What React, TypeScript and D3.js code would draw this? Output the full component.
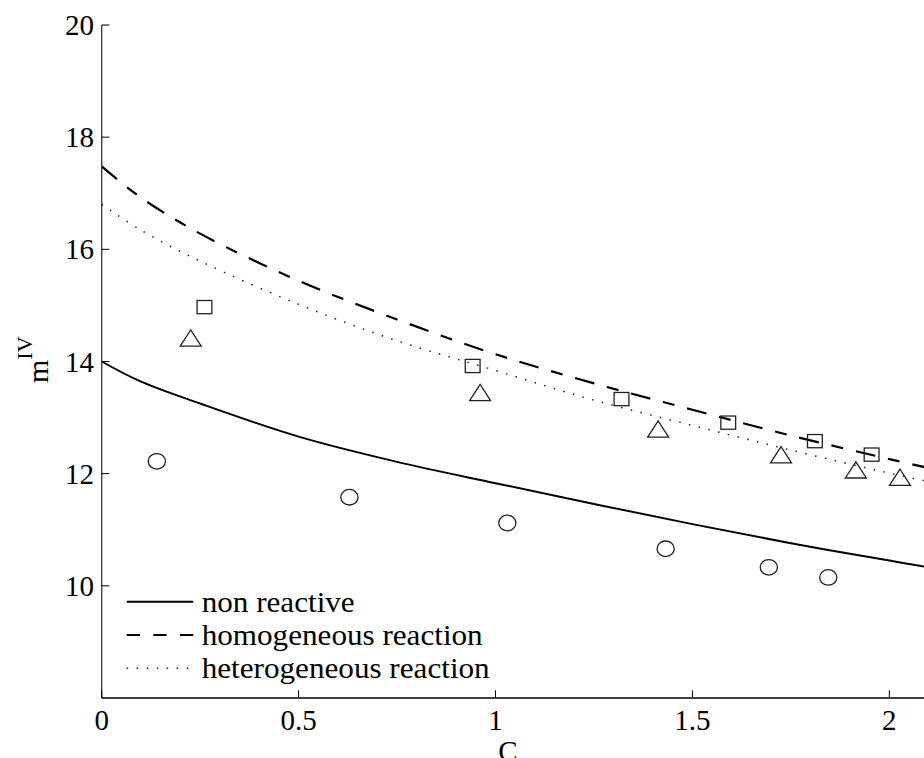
import React from "react";
import * as d3 from "d3";

// ---- data ----
const gridC = [0, 0.1, 0.25, 0.5, 0.75, 1.0, 1.25, 1.5, 1.75, 2.0, 2.1];
const nonReactive = [14.0, 13.64, 13.25, 12.66, 12.21, 11.83, 11.46, 11.1, 10.76, 10.45, 10.33];
const homogeneous = [17.48, 16.92, 16.28, 15.44, 14.75, 14.13, 13.61, 13.14, 12.68, 12.26, 12.1];
const heterogeneous = [16.8, 16.34, 15.79, 15.02, 14.37, 13.84, 13.31, 12.86, 12.42, 12.01, 11.86];

const squaresC = [0.261, 0.942, 1.32, 1.591, 1.811, 1.955];
const squaresM = [14.97, 13.92, 13.33, 12.91, 12.58, 12.34];
const trianglesC = [0.226, 0.961, 1.413, 1.725, 1.915, 2.027];
const trianglesM = [14.41, 13.44, 12.79, 12.33, 12.06, 11.93];
const circlesC = [0.14, 0.629, 1.03, 1.432, 1.694, 1.845];
const circlesM = [12.22, 11.58, 11.12, 10.66, 10.33, 10.15];

const xTicks = [0, 0.5, 1, 1.5, 2];
const yTicks = [10, 12, 14, 16, 18, 20];
const legendLabels = ["non reactive", "homogeneous reaction", "heterogeneous reaction"];

const W = 924;
const H = 758;
const FONT = "'Liberation Serif', 'Times New Roman', serif";

export default function App() {
  const x = d3.scaleLinear().domain([0, 2.1]).range([101.7, 928.7]);
  const y = d3.scaleLinear().domain([8, 20]).range([698, 25]);

  const line = d3
    .line<[number, number]>()
    .x((d) => x(d[0]))
    .y((d) => y(d[1]))
    .curve(d3.curveCatmullRom.alpha(0.5));

  const pts = (vals: number[]) => gridC.map((c, i) => [c, vals[i]] as [number, number]);

  const x0 = x.range()[0];
  const yBottom = y.range()[0];
  const tickLen = 7.7;

  const legendStyles = [
    { dash: undefined, width: 2, color: "#000" },
    { dash: "13.3,13.3", width: 2, color: "#000" },
    { dash: "1.5,8.5", width: 1.5, color: "#222" },
  ];
  const legendY = [601.7, 635, 668.3];
  const legendTextLen = [153, 281, 288];

  return (
    <svg
      width={W}
      height={H}
      style={{ position: "absolute", left: 0, top: 0, background: "#fff" }}
      fontFamily={FONT}
    >
      <defs>
        <clipPath id="plotClip">
          <rect x={x0} y={0} width={W - x0} height={yBottom} />
        </clipPath>
      </defs>
      <rect x={0} y={0} width={W} height={H} fill="#fff" />

      {/* curves */}
      <g clipPath="url(#plotClip)" fill="none">
        <path d={line(pts(nonReactive)) || ""} stroke="#000" strokeWidth={2} />
        <path d={line(pts(homogeneous)) || ""} stroke="#000" strokeWidth={2.2} strokeDasharray="20,13,12,13" />
        <path d={line(pts(heterogeneous)) || ""} stroke="#222" strokeWidth={1.5} strokeDasharray="1.5,8.5" />
      </g>

      {/* markers */}
      <g fill="none" stroke="#222" strokeWidth={1.3}>
        {squaresC.map((c, i) => (
          <rect key={"s" + i} x={x(c) - 7.4} y={y(squaresM[i]) - 6.6} width={14.8} height={13.2} />
        ))}
        {trianglesC.map((c, i) => {
          const cx = x(c);
          const cy = y(trianglesM[i]);
          return (
            <polygon
              key={"t" + i}
              points={`${cx},${cy - 8.5} ${cx - 10.5},${cy + 7.7} ${cx + 10.5},${cy + 7.7}`}
            />
          );
        })}
        {circlesC.map((c, i) => (
          <ellipse key={"c" + i} cx={x(c)} cy={y(circlesM[i])} rx={8.6} ry={7.8} />
        ))}
      </g>

      {/* axes */}
      <line x1={x0} x2={x0} y1={y(20)} y2={yBottom} stroke="#333" strokeWidth={1.3} />
      <line x1={x0} x2={W} y1={yBottom} y2={yBottom} stroke="#000" strokeWidth={1.5} />
      {yTicks.map((t) => (
        <g key={"yt" + t}>
          <line x1={x0} x2={x0 + tickLen} y1={y(t)} y2={y(t)} stroke="#000" strokeWidth={1} />
          <text x={94} y={y(t)} dy="0.35em" textAnchor="end" fontSize={29} fill="#000">
            {t}
          </text>
        </g>
      ))}
      {xTicks.map((t) => (
        <g key={"xt" + t}>
          <line x1={x(t)} x2={x(t)} y1={yBottom} y2={yBottom - tickLen} stroke="#000" strokeWidth={1} />
          <text x={x(t)} y={730} textAnchor="middle" fontSize={29} fill="#000">
            {t}
          </text>
        </g>
      ))}

      {/* axis labels */}
      <text x={508} y={761} textAnchor="middle" fontSize={29} fill="#000">
        C
      </text>
      <text transform="translate(48,383) rotate(-90)" fontSize={30} fill="#000">
        m
        <tspan dy={-16} fontSize={22}>
          IV
        </tspan>
      </text>

      {/* legend */}
      {legendLabels.map((lab, i) => (
        <g key={"lg" + i}>
          <line
            x1={126.7}
            x2={193.3}
            y1={legendY[i]}
            y2={legendY[i]}
            stroke={legendStyles[i].color}
            strokeWidth={legendStyles[i].width}
            strokeDasharray={legendStyles[i].dash}
          />
          <text
            x={201.7}
            y={legendY[i] + 10}
            fontSize={30}
            fill="#000"
            textLength={legendTextLen[i]}
            lengthAdjust="spacingAndGlyphs"
          >
            {lab}
          </text>
        </g>
      ))}
    </svg>
  );
}
